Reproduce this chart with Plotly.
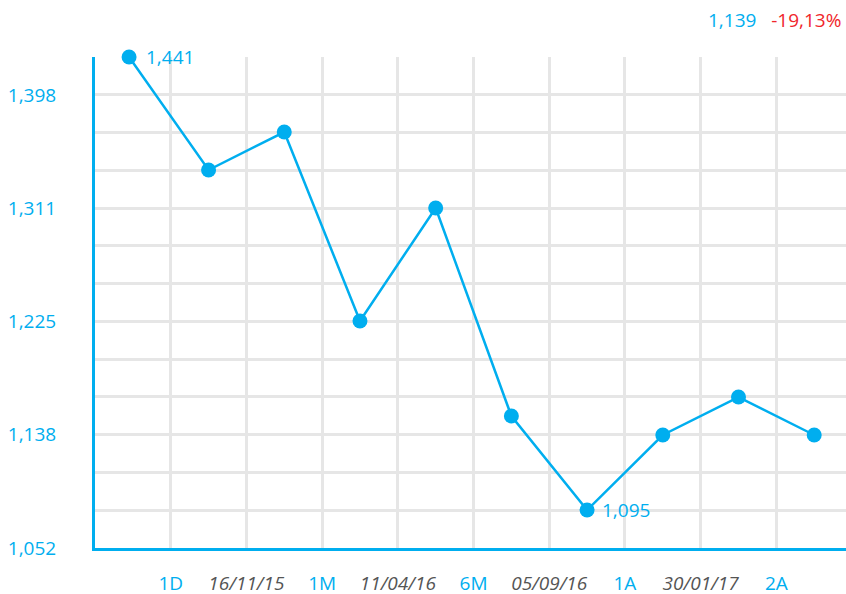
import plotly.graph_objects as go

# ---- data ----
point_x = [0.45, 1.5, 2.5, 3.5, 4.5, 5.5, 6.5, 7.5, 8.5, 9.5]
values = [1427.0, 1340.7, 1369.7, 1225.4, 1311.7, 1152.8, 1081.0, 1138.3, 1167.3, 1138.3]

x_tick_pos = [1, 2, 3, 4, 5, 6, 7, 8, 9]
x_tick_labels = ["1D", "16/11/15", "1M", "11/04/16", "6M", "05/09/16", "1A", "30/01/17", "2A"]
x_tick_is_period = [True, False, True, False, True, False, True, False, True]

y_label_vals = [1052, 1138.5, 1225, 1311.5, 1398]
y_label_text = ["1,052", "1,138", "1,225", "1,311", "1,398"]

max_label = "1,441"
min_label = "1,095"
last_value_text = "1,139"
change_text = "-19,13%"

BLUE = "#00aeef"
RED = "#f0262b"
GRID = "#e6e6e6"
FONT = "Open Sans"

# gridlines every third of a labelled step
step = (y_label_vals[1] - y_label_vals[0]) / 3
grid_vals = [y_label_vals[0] + k * step for k in range(1, 13)]
grid_text = []
for g in grid_vals:
    match = [t for v, t in zip(y_label_vals, y_label_text) if abs(v - g) < 0.5]
    grid_text.append(match[0] if match else "")
tickvals_y = [y_label_vals[0]] + grid_vals
ticktext_y = [y_label_text[0]] + grid_text

ticktext_x = []
for lab, per in zip(x_tick_labels, x_tick_is_period):
    if per:
        ticktext_x.append(f"<span style='color:{BLUE}'>{lab}</span>")
    else:
        ticktext_x.append(f"<i><span style='color:#555555'>{lab}</span></i>")

fig = go.Figure()
fig.add_trace(go.Scatter(
    x=point_x, y=values, mode="lines+markers",
    line=dict(color=BLUE, width=2.5),
    marker=dict(color=BLUE, size=15),
    cliponaxis=False, hoverinfo="skip",
))

imax = values.index(max(values))
imin = values.index(min(values))
fig.add_annotation(x=point_x[imax], y=values[imax], text=max_label, showarrow=False,
                   xanchor="left", yanchor="middle", xshift=15,
                   font=dict(color=BLUE, size=19, family=FONT))
fig.add_annotation(x=point_x[imin], y=values[imin], text=min_label, showarrow=False,
                   xanchor="left", yanchor="middle", xshift=13,
                   font=dict(color=BLUE, size=19, family=FONT))
fig.add_annotation(xref="paper", yref="paper", x=1, y=1.0754, xanchor="right", yanchor="middle",
                   showarrow=False, xshift=-3,
                   text=f"<span style='color:{BLUE}'>{last_value_text}</span>   "
                        f"<span style='color:{RED}'>{change_text}</span>",
                   font=dict(size=19, family=FONT))

fig.update_layout(
    width=846, height=594,
    margin=dict(l=95, r=0, t=57, b=46, autoexpand=False),
    paper_bgcolor="white", plot_bgcolor="white",
    showlegend=False,
    font=dict(family=FONT, size=19, color=BLUE),
    xaxis=dict(
        range=[0, 9.92], tickmode="array", tickvals=x_tick_pos, ticktext=ticktext_x,
        showgrid=True, gridcolor=GRID, gridwidth=2.5,
        showline=True, linecolor=BLUE, linewidth=3,
        zeroline=False, ticks="", ticklabelstandoff=16, automargin=False,
        tickfont=dict(size=19, family=FONT),
    ),
    yaxis=dict(
        range=[1052, 1427.0], tickmode="array", tickvals=tickvals_y, ticktext=ticktext_y,
        showgrid=True, gridcolor=GRID, gridwidth=2.5,
        showline=True, linecolor=BLUE, linewidth=3,
        zeroline=False, ticks="", ticklabelstandoff=32, automargin=False,
        tickfont=dict(size=19, family=FONT, color=BLUE),
    ),
)

fig.write_html("out.html", config={"displayModeBar": False},
               post_script="document.body.style.margin='0';document.body.style.overflow='hidden';")
